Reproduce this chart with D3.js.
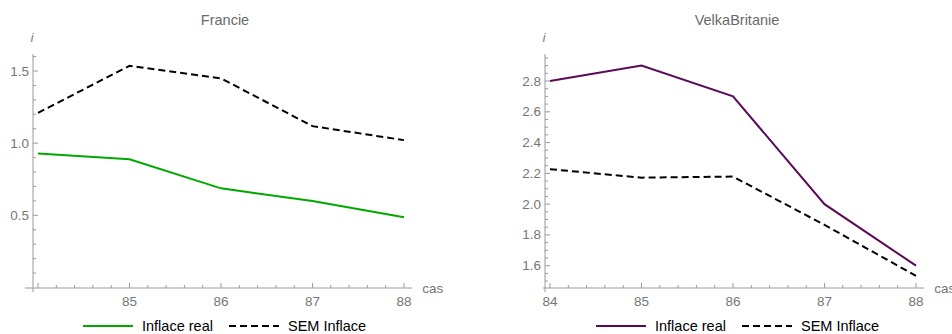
<!DOCTYPE html>
<html>
<head>
<meta charset="utf-8">
<script src="https://cdn.jsdelivr.net/npm/d3@7"></script>
<style>
  html, body { margin: 0; padding: 0; background: #fff; }
  svg { display: block; font-family: "Liberation Sans", Arial, sans-serif; }
</style>
</head>
<body>
<svg id="chart" width="952" height="334"></svg>
<script>
// Years on the horizontal axis
const years = [84, 85, 86, 87, 88];

// Francie
const franceReal = [0.929, 0.888, 0.687, 0.599, 0.486];
const franceSem = [1.21, 1.536, 1.449, 1.118, 1.021];
const franceYTicks = [0.5, 1.0, 1.5];
const franceXTicks = [85, 86, 87, 88];

// Velka Britanie
const ukReal = [2.8, 2.9, 2.7, 2.0, 1.6];
const ukSem = [2.227, 2.172, 2.179, 1.865, 1.534];
const ukYTicks = [1.6, 1.8, 2.0, 2.2, 2.4, 2.6, 2.8];
const ukXTicks = [84, 85, 86, 87, 88];

const seriesNames = ["Inflace real", "SEM Inflace"];

const svg = d3.select("#chart");
const axisColor = "#9a9a9a";
const labelColor = "#767676";

function panel(cfg) {
  const g = svg.append("g");
  const x = d3.scaleLinear().domain([84, 88]).range([cfg.x0, cfg.x0 + 366]);
  const y = d3.scaleLinear().domain(cfg.yDomain).range(cfg.yRange);

  const xMin = x.invert(cfg.x0 - 5);
  const yAxisTop = 54, xAxisY = 288;

  // axes lines
  g.append("line").attr("x1", x(xMin) - cfg.xOver).attr("x2", x(88.09))
    .attr("y1", xAxisY).attr("y2", xAxisY).attr("stroke", axisColor).attr("stroke-width", 1);
  g.append("line").attr("x1", x(xMin)).attr("x2", x(xMin))
    .attr("y1", yAxisTop).attr("y2", xAxisY + 4).attr("stroke", axisColor).attr("stroke-width", 1);

  // x ticks (inward)
  const xMinor = d3.range(84, 88.001, 0.2).map(v => +v.toFixed(2));
  g.selectAll(".xt").data(xMinor).join("line")
    .attr("x1", d => x(d)).attr("x2", d => x(d))
    .attr("y1", xAxisY).attr("y2", d => Math.abs(d - Math.round(d)) < 1e-6 ? xAxisY - 5 : xAxisY - 3)
    .attr("stroke", axisColor);
  g.selectAll(".xl").data(cfg.xTicks).join("text")
    .attr("x", d => x(d)).attr("y", xAxisY + 18)
    .attr("text-anchor", "middle").attr("font-size", 13.5).attr("fill", labelColor)
    .text(d => d);

  // y ticks (inward)
  const yMinor = d3.range(cfg.minorStart, cfg.yTop + 1e-9, cfg.minorStep).map(v => +v.toFixed(3));
  g.selectAll(".yt").data(yMinor).join("line")
    .attr("x1", x(xMin)).attr("x2", d => cfg.yTicks.some(t => Math.abs(t - d) < 1e-6) ? x(xMin) + 5 : x(xMin) + 3)
    .attr("y1", d => y(d)).attr("y2", d => y(d))
    .attr("stroke", axisColor);
  g.selectAll(".yl").data(cfg.yTicks).join("text")
    .attr("x", x(xMin) - 4).attr("y", d => y(d) + 4.5)
    .attr("text-anchor", "end").attr("font-size", 13.5).attr("fill", labelColor)
    .text(d => d.toFixed(1));

  // axis labels
  g.append("text").attr("x", x(xMin) - 1).attr("y", 42).attr("font-size", 12)
    .attr("font-style", "italic").attr("fill", labelColor).attr("text-anchor", "middle").text("i");
  g.append("text").attr("x", x(88.09) + 10).attr("y", xAxisY + 5).attr("font-size", 13.5)
    .attr("fill", labelColor).text("cas");

  // title
  g.append("text").attr("x", cfg.titleX).attr("y", 25).attr("text-anchor", "middle")
    .attr("font-size", 14.5).attr("fill", "#6a6a6a").text(cfg.title);

  const line = d3.line().x((d, i) => x(years[i])).y(d => y(d));
  g.append("path").datum(cfg.sem).attr("d", line).attr("fill", "none")
    .attr("stroke", "#000").attr("stroke-width", 2).attr("stroke-dasharray", "7,4");
  g.append("path").datum(cfg.real).attr("d", line).attr("fill", "none")
    .attr("stroke", cfg.color).attr("stroke-width", 2);

  // legend
  const lg = g.append("g").attr("transform", `translate(${cfg.legendX},326)`);
  lg.append("line").attr("x1", 0).attr("x2", 50).attr("y1", 0).attr("y2", 0)
    .attr("stroke", cfg.color).attr("stroke-width", 2);
  lg.append("text").attr("x", 59).attr("y", 5).attr("font-size", 14.5).attr("fill", "#000").text(seriesNames[0]);
  lg.append("line").attr("x1", 146).attr("x2", 196).attr("y1", 0).attr("y2", 0)
    .attr("stroke", "#000").attr("stroke-width", 2).attr("stroke-dasharray", "7,4");
  lg.append("text").attr("x", 205).attr("y", 5).attr("font-size", 14.5).attr("fill", "#000").text(seriesNames[1]);
}

panel({
  x0: 38, yDomain: [0, 1.5], yRange: [287.5, 71],
  yTicks: franceYTicks, xTicks: franceXTicks, minorStart: 0.1, minorStep: 0.1, yTop: 1.6,
  real: franceReal, sem: franceSem, color: "#00a800", title: "Francie", titleX: 225,
  legendX: 83, xOver: 8
});
panel({
  x0: 550, yDomain: [1.6, 2.8], yRange: [265.7, 81],
  yTicks: ukYTicks, xTicks: ukXTicks, minorStart: 1.5, minorStep: 0.05, yTop: 2.96,
  real: ukReal, sem: ukSem, color: "#5a0a5a", title: "VelkaBritanie", titleX: 737,
  legendX: 596, xOver: 2
});
</script>
</body>
</html>
